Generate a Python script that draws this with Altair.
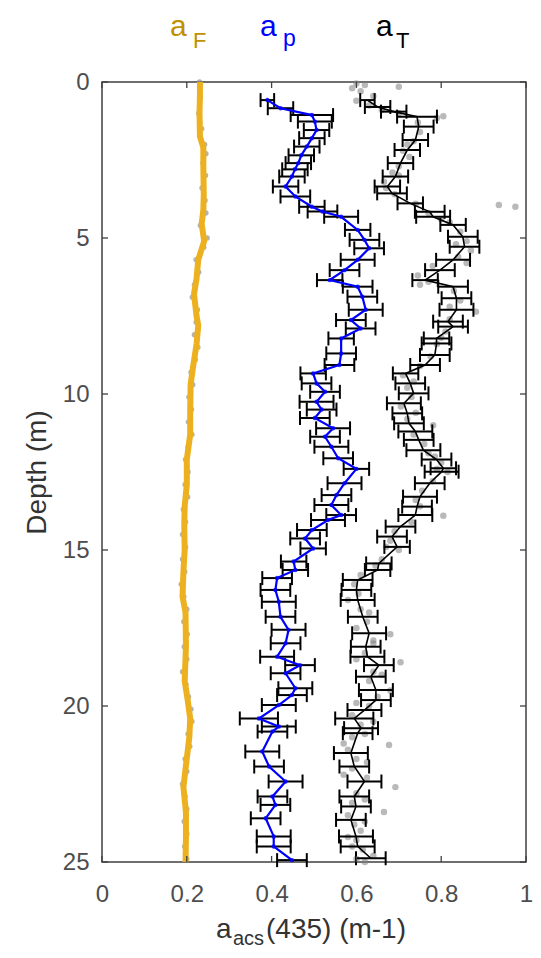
import altair as alt
import pandas as pd

# ---------------- data ----------------
X_TICKS = [0, 0.2, 0.4, 0.6, 0.8, 1]
Y_TICKS = [0, 5, 10, 15, 20, 25]

# a_p profile: (depth m, value, error half-width)
AP = [
    (0.58, 0.390, 0.016), (0.84, 0.421, 0.030), (1.06, 0.495, 0.050), (1.27, 0.502, 0.040),
    (1.54, 0.506, 0.030), (1.80, 0.495, 0.030), (2.07, 0.483, 0.030), (2.35, 0.470, 0.030),
    (2.60, 0.463, 0.030), (2.80, 0.455, 0.030), (3.03, 0.448, 0.030), (3.35, 0.433, 0.030),
    (3.67, 0.456, 0.035), (4.00, 0.495, 0.030), (4.15, 0.520, 0.035), (4.32, 0.564, 0.040),
    (4.74, 0.603, 0.030), (5.06, 0.619, 0.035), (5.33, 0.630, 0.035), (5.70, 0.603, 0.040),
    (6.03, 0.572, 0.035), (6.35, 0.537, 0.030), (6.56, 0.603, 0.035), (6.88, 0.614, 0.035),
    (7.30, 0.622, 0.040), (7.63, 0.587, 0.035), (7.90, 0.610, 0.035), (8.22, 0.564, 0.030),
    (8.70, 0.564, 0.035), (9.07, 0.560, 0.035), (9.34, 0.498, 0.030), (9.66, 0.506, 0.035),
    (9.93, 0.526, 0.035), (10.25, 0.506, 0.040), (10.50, 0.518, 0.035), (10.77, 0.502, 0.035),
    (11.10, 0.545, 0.040), (11.37, 0.526, 0.035), (11.69, 0.541, 0.040), (12.06, 0.557, 0.035),
    (12.40, 0.600, 0.030), (12.86, 0.572, 0.040), (13.24, 0.553, 0.035), (13.56, 0.541, 0.040),
    (13.88, 0.564, 0.035), (14.04, 0.533, 0.040), (14.36, 0.495, 0.035), (14.63, 0.479, 0.035),
    (14.95, 0.498, 0.030), (15.37, 0.452, 0.030), (15.64, 0.456, 0.030), (15.90, 0.413, 0.035),
    (16.28, 0.409, 0.035), (16.66, 0.417, 0.040), (17.14, 0.421, 0.035), (17.56, 0.440, 0.040),
    (17.99, 0.433, 0.035), (18.42, 0.413, 0.040), (18.69, 0.467, 0.035), (18.95, 0.433, 0.035),
    (19.43, 0.456, 0.040), (19.65, 0.448, 0.035), (19.97, 0.417, 0.040), (20.40, 0.370, 0.045),
    (20.66, 0.417, 0.040), (20.82, 0.402, 0.035), (21.46, 0.378, 0.040), (21.94, 0.394, 0.035),
    (22.42, 0.433, 0.040), (22.90, 0.402, 0.035), (23.17, 0.409, 0.035), (23.60, 0.386, 0.035),
    (24.18, 0.405, 0.040), (24.50, 0.405, 0.040), (24.94, 0.448, 0.035),
]

# a_T profile: (depth m, value, error half-width)
AT = [
    (0.58, 0.626, 0.017), (0.80, 0.650, 0.030), (0.95, 0.688, 0.030), (1.11, 0.743, 0.047),
    (1.43, 0.747, 0.035), (1.86, 0.739, 0.030), (2.18, 0.720, 0.030), (2.60, 0.704, 0.030),
    (3.03, 0.692, 0.030), (3.35, 0.673, 0.030), (3.57, 0.684, 0.035), (3.89, 0.727, 0.030),
    (4.16, 0.773, 0.035), (4.32, 0.781, 0.040), (4.58, 0.828, 0.030), (4.96, 0.851, 0.035),
    (5.28, 0.855, 0.035), (5.70, 0.828, 0.040), (6.03, 0.797, 0.035), (6.35, 0.762, 0.030),
    (6.56, 0.828, 0.035), (6.93, 0.836, 0.035), (7.30, 0.836, 0.040), (7.68, 0.816, 0.035),
    (7.84, 0.828, 0.035), (8.22, 0.789, 0.030), (8.38, 0.789, 0.035), (8.75, 0.785, 0.035),
    (9.07, 0.762, 0.035), (9.34, 0.716, 0.030), (9.66, 0.727, 0.035), (9.98, 0.735, 0.035),
    (10.30, 0.712, 0.040), (10.62, 0.720, 0.035), (10.94, 0.724, 0.035), (11.20, 0.739, 0.040),
    (11.47, 0.747, 0.035), (11.80, 0.758, 0.040), (12.10, 0.789, 0.035), (12.38, 0.805, 0.030),
    (12.49, 0.801, 0.040), (12.86, 0.773, 0.035), (13.29, 0.750, 0.040), (13.61, 0.743, 0.035),
    (13.88, 0.739, 0.040), (14.25, 0.704, 0.035), (14.57, 0.684, 0.035), (14.90, 0.696, 0.030),
    (15.43, 0.653, 0.030), (15.64, 0.650, 0.030), (15.96, 0.603, 0.035), (16.28, 0.600, 0.035),
    (16.60, 0.603, 0.040), (17.14, 0.615, 0.035), (17.67, 0.630, 0.040), (18.10, 0.622, 0.035),
    (18.42, 0.626, 0.040), (18.69, 0.653, 0.035), (19.06, 0.634, 0.035), (19.49, 0.646, 0.040),
    (19.81, 0.646, 0.035), (20.13, 0.619, 0.040), (20.40, 0.595, 0.045), (20.71, 0.611, 0.040),
    (20.87, 0.603, 0.035), (21.51, 0.587, 0.040), (21.94, 0.595, 0.035), (22.42, 0.619, 0.040),
    (22.90, 0.595, 0.035), (23.22, 0.599, 0.035), (23.65, 0.587, 0.035), (24.18, 0.599, 0.040),
    (24.50, 0.603, 0.040), (24.88, 0.634, 0.035),
]

# a_F profile: (depth m, value)
AF = [
    (0.0, 0.231), (0.4, 0.231), (1.0, 0.230), (1.75, 0.231), (2.1, 0.239), (2.7, 0.239),
    (3.6, 0.240), (4.1, 0.239), (4.55, 0.235), (5.1, 0.241), (5.7, 0.227), (6.3, 0.223),
    (6.8, 0.217), (7.5, 0.223), (7.8, 0.227), (8.4, 0.223), (9.2, 0.214), (9.7, 0.209),
    (10.6, 0.208), (11.3, 0.208), (12.1, 0.200), (12.9, 0.200), (13.6, 0.195), (14.2, 0.194),
    (15.0, 0.195), (15.7, 0.192), (16.5, 0.190), (17.0, 0.197), (18.1, 0.198), (19.2, 0.195),
    (19.8, 0.202), (20.4, 0.208), (21.0, 0.206), (21.9, 0.198), (22.6, 0.192), (23.4, 0.198),
    (24.2, 0.198), (25.0, 0.197),
]

# raw (grey) measurements around a_T: (depth m, value)
AT_RAW = [
    (0.05, 0.600), (0.10, 0.620), (0.15, 0.700), (0.20, 0.590), (0.30, 0.610), (0.45, 0.640),
    (0.60, 0.600), (0.75, 0.630), (0.90, 0.660), (1.00, 0.700), (1.10, 0.805), (1.15, 0.790),
    (1.30, 0.745), (1.60, 0.750), (1.90, 0.735), (2.00, 0.720), (2.20, 0.710), (2.40, 0.725),
    (2.70, 0.700), (2.90, 0.685), (3.00, 0.700), (3.20, 0.665), (3.40, 0.670), (3.60, 0.690),
    (3.90, 0.740), (3.94, 0.936), (4.00, 0.975), (4.20, 0.770), (4.40, 0.800), (4.50, 0.820),
    (4.80, 0.845), (5.10, 0.860), (5.20, 0.835), (5.40, 0.870), (5.60, 0.840), (5.80, 0.860),
    (5.90, 0.780), (6.20, 0.745), (6.40, 0.770), (6.50, 0.750), (6.70, 0.830), (7.00, 0.845),
    (7.20, 0.820), (7.36, 0.882), (7.60, 0.820), (8.00, 0.810), (8.20, 0.800), (8.40, 0.790),
    (8.80, 0.775), (9.10, 0.750), (9.40, 0.710), (9.60, 0.735), (9.80, 0.720), (10.10, 0.730),
    (10.40, 0.705), (10.60, 0.740), (10.80, 0.720), (11.00, 0.781), (11.30, 0.735), (11.60, 0.760),
    (11.90, 0.770), (12.00, 0.785), (12.20, 0.800), (12.40, 0.790), (12.50, 0.815), (12.80, 0.780),
    (13.10, 0.755), (13.40, 0.740), (13.60, 0.750), (13.90, 0.805), (14.10, 0.730), (14.40, 0.690),
    (14.70, 0.680), (14.90, 0.670), (15.00, 0.700), (15.30, 0.660), (15.50, 0.645), (15.80, 0.610),
    (16.10, 0.595), (16.40, 0.605), (16.60, 0.580), (16.90, 0.610), (17.00, 0.630), (17.30, 0.625),
    (17.50, 0.600), (17.70, 0.680), (17.90, 0.640), (18.00, 0.640), (18.30, 0.620), (18.50, 0.600),
    (18.60, 0.704), (18.90, 0.640), (19.00, 0.660), (19.20, 0.630), (19.50, 0.680), (19.70, 0.650),
    (19.90, 0.600), (20.00, 0.630), (20.30, 0.590), (20.50, 0.640), (20.60, 0.610), (20.90, 0.620),
    (21.00, 0.590), (21.20, 0.570), (21.25, 0.677), (21.40, 0.580), (21.70, 0.600), (21.80, 0.625),
    (22.00, 0.590), (22.20, 0.570), (22.30, 0.625), (22.60, 0.692), (22.80, 0.600), (23.00, 0.620),
    (23.10, 0.590), (23.40, 0.665), (23.50, 0.580), (23.70, 0.620), (23.80, 0.595), (24.00, 0.610),
    (24.20, 0.580), (24.30, 0.600), (24.50, 0.590), (24.60, 0.615), (24.80, 0.640), (24.90, 0.600),
    (25.00, 0.620),
]

# raw (grey) measurements around a_F: (depth m, value)
AF_RAW = [
    (0.0, 0.230), (0.5, 0.232), (1.0, 0.228), (1.5, 0.235), (2.0, 0.242), (2.3, 0.245),
    (2.6, 0.238), (3.0, 0.244), (3.4, 0.236), (3.8, 0.243), (4.2, 0.245), (4.6, 0.232),
    (5.0, 0.248), (5.3, 0.240), (5.7, 0.222), (6.1, 0.228), (6.5, 0.218), (6.9, 0.213),
    (7.3, 0.225), (7.7, 0.222), (8.1, 0.218), (8.5, 0.226), (8.9, 0.220), (9.3, 0.210),
    (9.7, 0.214), (10.1, 0.205), (10.5, 0.211), (10.9, 0.204), (11.3, 0.212), (11.7, 0.203),
    (12.1, 0.197), (12.5, 0.203), (12.9, 0.196), (13.3, 0.202), (13.7, 0.192), (14.1, 0.197),
    (14.5, 0.190), (14.9, 0.197), (15.3, 0.190), (15.7, 0.195), (16.1, 0.187), (16.5, 0.193),
    (16.9, 0.200), (17.3, 0.193), (17.7, 0.201), (18.1, 0.194), (18.5, 0.200), (18.9, 0.190),
    (19.3, 0.198), (19.7, 0.204), (20.1, 0.210), (20.5, 0.212), (20.9, 0.203), (21.3, 0.207),
    (21.7, 0.196), (22.1, 0.200), (22.5, 0.190), (22.9, 0.196), (23.3, 0.200), (23.7, 0.194),
    (24.1, 0.200), (24.5, 0.195), (24.9, 0.200),
]

# ---------------- frames ----------------
ap_df = pd.DataFrame(AP, columns=["depth", "value", "err"])
at_df = pd.DataFrame(AT, columns=["depth", "value", "err"])
af_df = pd.DataFrame(AF, columns=["depth", "value"])
at_raw_df = pd.DataFrame(AT_RAW, columns=["depth", "value"])
af_raw_df = pd.DataFrame(AF_RAW, columns=["depth", "value"])
xt_df = pd.DataFrame({"t": X_TICKS})
yt_df = pd.DataFrame({"t": Y_TICKS})
one = pd.DataFrame({"a": [0]})

W, H = 424, 780
FONT = "Liberation Sans"
xs = alt.Scale(domain=[0, 1], nice=False, zero=False)
ys = alt.Scale(domain=[0, 25], reverse=True, nice=False, zero=False)

xaxis = alt.Axis(values=X_TICKS, format="~g", ticks=False, domain=False, grid=False,
                 labelFlush=False,
                 labelFont=FONT, labelFontSize=24, labelColor="#4d4d4d", labelPadding=20,
                 title=None)
yaxis = alt.Axis(values=Y_TICKS, ticks=False, domain=False, grid=False,
                 labelFont=FONT, labelFontSize=24, labelColor="#4d4d4d", labelPadding=13,
                 title="Depth (m)", titleFont=FONT, titleFontSize=28, titleFontWeight="normal",
                 titleColor="#333333", titlePadding=11)


def X(f):
    return alt.X(f, type="quantitative", scale=xs, axis=xaxis)


def Y(f):
    return alt.Y(f, type="quantitative", scale=ys, axis=yaxis)


af_dots = alt.Chart(af_raw_df).mark_circle(size=30, color="#808080", opacity=0.6).encode(
    x=X("value"), y=Y("depth"))
af_line = alt.Chart(af_df).mark_line(color="#EDB120", strokeWidth=6).encode(
    x=X("value"), y=Y("depth"), order="depth:Q")

at_dots = alt.Chart(at_raw_df).mark_circle(size=42, color="#808080", opacity=0.55).encode(
    x=X("value"), y=Y("depth"))


def errbars(df):
    base = alt.Chart(df).transform_calculate(
        lo="datum.value - datum.err", hi="datum.value + datum.err")
    bar = base.mark_rule(color="black", strokeWidth=2).encode(
        x=X("lo:Q"), x2="hi:Q", y=Y("depth"))
    cap_lo = base.mark_tick(orient="vertical", size=14, thickness=2, color="black",
                            opacity=1).encode(x=X("lo:Q"), y=Y("depth"))
    cap_hi = base.mark_tick(orient="vertical", size=14, thickness=2, color="black",
                            opacity=1).encode(x=X("hi:Q"), y=Y("depth"))
    return [bar, cap_lo, cap_hi]


at_line = alt.Chart(at_df).mark_line(color="black", strokeWidth=1.6).encode(
    x=X("value"), y=Y("depth"), order="depth:Q")
ap_line = alt.Chart(ap_df).mark_line(color="#0000FF", strokeWidth=2.2).encode(
    x=X("value"), y=Y("depth"), order="depth:Q")
ap_pts = alt.Chart(ap_df).mark_circle(size=20, color="#0000FF", opacity=0.8).encode(
    x=X("value"), y=Y("depth"))

# inside tick marks (MATLAB style)
TK = "#404040"
tick_layers = [
    alt.Chart(xt_df).mark_rule(color=TK, strokeWidth=1.3).encode(
        x=X("t"), y=alt.value(0), y2=alt.value(6)),
    alt.Chart(xt_df).mark_rule(color=TK, strokeWidth=1.3).encode(
        x=X("t"), y=alt.value(H), y2=alt.value(H - 6)),
    alt.Chart(yt_df).mark_rule(color=TK, strokeWidth=1.3).encode(
        y=Y("t"), x=alt.value(0), x2=alt.value(6)),
    alt.Chart(yt_df).mark_rule(color=TK, strokeWidth=1.3).encode(
        y=Y("t"), x=alt.value(W), x2=alt.value(W - 6)),
]


def txt(s, x, y, size, color, font):
    return alt.Chart(one).mark_text(text=s, align="left", baseline="alphabetic", font=font,
                                    fontSize=size, color=color).encode(
        x=alt.value(x), y=alt.value(y))


TF = FONT
title_layers = [
    txt("a", 68, -46, 30, "#BF9000", TF), txt("F", 91, -34, 22, "#BF9000", TF),
    txt("a", 158, -46, 30, "#0000FF", TF), txt("p", 181, -36, 23, "#0000FF", TF),
    txt("a", 274, -46, 30, "#000000", TF), txt("T", 294, -34, 22, "#000000", TF),
    # x axis title  a_acs(435) (m-1)
    txt("a", 114, 856, 28, "#333333", FONT), txt("acs", 131, 863, 20, "#333333", FONT),
    txt("(435) (m-1)", 164, 856, 28, "#333333", FONT),
]

layers = [af_dots, af_line, at_dots] + errbars(at_df) + [at_line] + \
    errbars(ap_df) + [ap_line, ap_pts] + tick_layers + title_layers

chart = alt.layer(*layers).properties(
    width=W, height=H,
    autosize=alt.AutoSizeParams(type="none"),
    padding={"left": 94, "top": 74, "right": 7, "bottom": 88},
).configure_view(stroke="#404040", strokeWidth=1.5)

chart.save("out.html", embed_options={"renderer": "svg", "actions": False})
